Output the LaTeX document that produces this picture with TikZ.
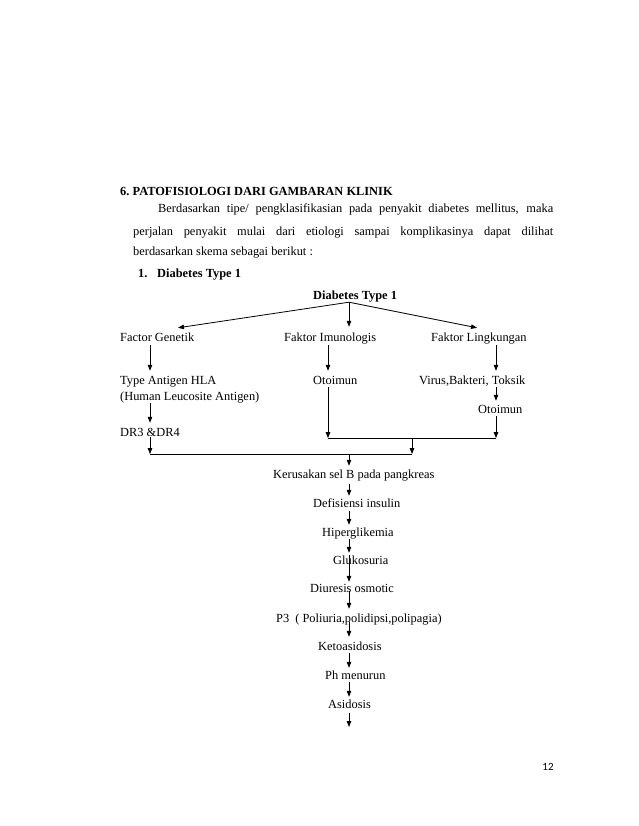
\documentclass[tikz,border=0pt]{standalone}
\usepackage{fontspec}
\setmainfont{Liberation Serif}
\newfontfamily\pagenumfont{Carlito}
\usetikzlibrary{arrows.meta,calc}
\begin{document}
\begin{tikzpicture}[x=1pt,y=-1pt,
  txt/.style={inner sep=0pt, text height=9pt, text depth=3pt, anchor=base west, font=\fontsize{12.4}{14}\selectfont},
  bold/.style={txt, font=\fontsize{12.4}{14}\selectfont\bfseries},
  arr/.style={line width=0.8pt, -{Triangle[length=6pt,width=4.5pt]}},
  ln/.style={line width=0.8pt}]
\useasboundingbox (0,0) rectangle (638,826);
\fill[white] (0,0) rectangle (638,826);

% heading and paragraph
\node[bold] (head) at (120,196) {6.\ PATOFISIOLOGI DARI GAMBARAN KLINIK};
\node[txt] (p1) at (158,213) {\makebox[395pt][s]{Berdasarkan tipe/ pengklasifikasian pada penyakit diabetes mellitus, maka}};
\node[txt] (p2) at (133,236) {\makebox[420pt][s]{perjalan penyakit mulai dari etiologi sampai komplikasinya dapat dilihat}};
\node[txt] (p3t) at (133,255) {berdasarkan skema sebagai berikut :};
\node[bold] (item) at (138,277) {\makebox[19pt][l]{1.}Diabetes Type 1};

% diagram nodes
\node[bold] (dt) at (313,299) {Diabetes Type 1};
\node[txt] (fg) at (120,341) {Factor Genetik};
\node[txt] (fi) at (284,341) {Faktor Imunologis};
\node[txt] (fl) at (431,341) {Faktor Lingkungan};
\node[txt] (tah) at (120,384) {Type Antigen HLA};
\node[txt] (hla2) at (120,400) {(Human Leucosite Antigen)};
\node[txt] (om) at (313,384) {Otoimun};
\node[txt] (vbt) at (419,384) {Virus,Bakteri, Toksik};
\node[txt] (ot2) at (478,413) {Otoimun};
\node[txt] (dr) at (120,436) {DR3 \&DR4};
\node[txt] (ker) at (273,478) {Kerusakan sel B pada pangkreas};
\node[txt] (def) at (313,507) {Defisiensi insulin};
\node[txt] (hip) at (322,536) {Hiperglikemia};
\node[txt] (glu) at (333,564) {Glukosuria};
\node[txt] (diu) at (310,592) {Diuresis osmotic};
\node[txt] (pthree) at (276,622) {P3\hspace{6pt}( Poliuria,polidipsi,polipagia)};
\node[txt] (ket) at (318,650) {Ketoasidosis};
\node[txt] (ph) at (325,679) {Ph menurun};
\node[txt] (asi) at (328,708) {Asidosis};
\node[font=\pagenumfont\fontsize{11}{13}\selectfont, inner sep=0pt] (pg) at (548,767) {12};

% columns and junctions
\coordinate (cC) at (349,0);
\coordinate (cL) at (150,0);
\coordinate (cM) at (328,0);
\coordinate (cR) at (496,0);
\coordinate (mM) at (328,438);
\coordinate (mR) at (496,438);
\coordinate (mJ) at (412,438);
\coordinate (bL) at (150,454);
\coordinate (bJ) at (412,454);
\coordinate (bC) at (349,454);
\coordinate (endc) at (349,727);

% branching
\draw[arr] (cC |- dt.south) -- ([xshift=58pt,yshift=4pt]fg.north west);
\draw[arr] (cC |- dt.south) -- ($(cC |- fi.north)+(0,-5)$);
\draw[arr] (cC |- dt.south) -- ([xshift=46pt,yshift=4pt]fl.north west);

\draw[arr] ($(cL |- fg.south)+(0,1)$) -- ($(cL |- tah.north)+(0,-4)$);
\draw[arr] ($(cM |- fi.south)+(0,1)$) -- ($(cM |- om.north)+(0,-4)$);
\draw[arr] ($(cR |- fl.south)+(0,1)$) -- ($(cR |- vbt.north)+(0,-4)$);
\draw[arr] (cL |- hla2.south) -- ($(cL |- dr.north)+(0,-4)$);
\draw[arr] (cR |- vbt.south) -- ($(cR |- ot2.north)+(0,-3)$);

% merging
\draw[arr] (cM |- om.south) -- (mM);
\draw[arr] (cR |- ot2.south) -- (mR);
\draw[ln] (mM) -- (mR);
\draw[arr] (mJ) -- (bJ);
\draw[arr] ($(cL |- dr.south)+(0,-2)$) -- (bL);
\draw[ln] (bL) -- (bJ);
\draw[arr] (bC) -- ($(cC |- ker.north)+(0,-3)$);

% chain
\draw[arr] ($(cC |- ker.south)+(0,3)$) -- ($(cC |- def.north)+(0,-2)$);
\draw[arr] ($(cC |- def.south)+(0,1)$) -- ($(cC |- hip.north)+(0,-2)$);
\draw[arr] (cC |- hip.south) -- ($(cC |- glu.north)+(0,-2)$);
\draw[arr] (cC |- glu.north) -- ($(cC |- diu.north)+(0,-1)$);
\draw[arr] ($(cC |- diu.south)+(0,-4)$) -- ($(cC |- pthree.north)+(0,-4)$);
\draw[arr] ($(cC |- pthree.south)+(0,-3)$) -- ($(cC |- ket.north)+(0,-4)$);
\draw[arr] (cC |- ket.south) -- ($(cC |- ph.north)+(0,-2)$);
\draw[arr] (cC |- ph.south) -- ($(cC |- asi.north)+(0,-2)$);
\draw[arr] ($(cC |- asi.south)+(0,2)$) -- (endc);
\end{tikzpicture}
\end{document}
